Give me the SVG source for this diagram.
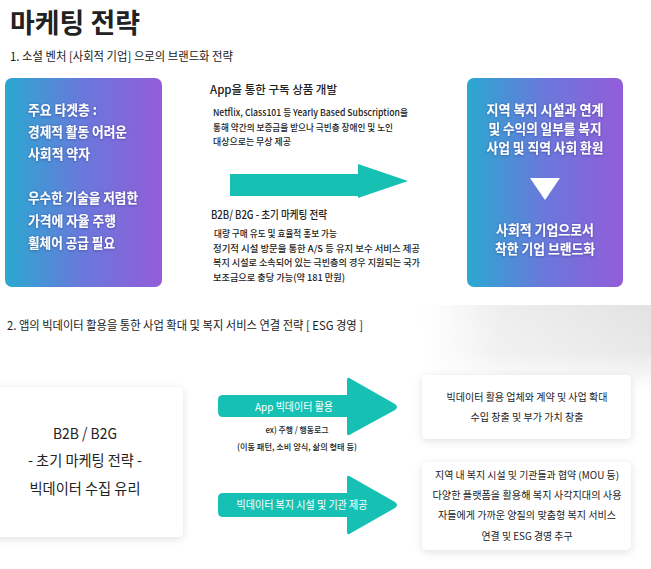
<svg xmlns="http://www.w3.org/2000/svg" width="651" height="569" viewBox="0 0 651 569">
<defs>
<linearGradient id="grad" x1="0" y1="0" x2="1" y2="0">
<stop offset="0" stop-color="#2aa9d0"/>
<stop offset="0.5" stop-color="#6a78db"/>
<stop offset="1" stop-color="#935cd8"/>
</linearGradient>
<linearGradient id="photoH" x1="0" y1="0" x2="1" y2="0">
<stop offset="0" stop-color="#ececec" stop-opacity="0"/>
<stop offset="0.35" stop-color="#e9e9e9" stop-opacity="0.8"/>
<stop offset="1" stop-color="#e2e2e2" stop-opacity="1"/>
</linearGradient>
<linearGradient id="fadeV" x1="0" y1="0" x2="0" y2="1">
<stop offset="0" stop-color="#fff" stop-opacity="1"/>
<stop offset="0.55" stop-color="#fff" stop-opacity="0.8"/>
<stop offset="1" stop-color="#fff" stop-opacity="0"/>
</linearGradient>
<mask id="photoMask"><rect x="420" y="305" width="231" height="85" fill="url(#fadeV)"/></mask>
<filter id="shadow" x="-20%" y="-20%" width="140%" height="150%">
<feDropShadow dx="0" dy="2" stdDeviation="4" flood-color="#000" flood-opacity="0.12"/>
</filter>
<filter id="tshadow" x="-10%" y="-30%" width="120%" height="160%">
<feDropShadow dx="0" dy="0.5" stdDeviation="0.8" flood-color="#1a2a6a" flood-opacity="0.55"/>
</filter>
</defs>
<style>
text{font-family:"Noto Sans CJK KR","Noto Sans",sans-serif;fill:#222;}
.title{font-size:27px;font-weight:700;}
.sub{font-size:12px;}
.wb{font-size:14px;font-weight:700;fill:#fff;}
.head{font-size:11.5px;font-weight:500;}
.small{font-size:9.5px;font-weight:500;}
.big{font-size:15px;text-anchor:middle;}
.al{font-size:11px;fill:#fff;text-anchor:middle;}
.tiny{font-size:8.5px;text-anchor:middle;font-weight:500;}
.bx{font-size:10px;text-anchor:middle;}
.arrow{fill:#16c1b4;}
.card{fill:#fff;filter:url(#shadow);}
</style>
<rect width="651" height="569" fill="#fff"/>
<rect x="420" y="305" width="231" height="85" fill="url(#photoH)" mask="url(#photoMask)"/>

<text class="title" x="10" y="33" textLength="130" lengthAdjust="spacingAndGlyphs">마케팅 전략</text>
<text class="sub" x="10" y="61" textLength="223" lengthAdjust="spacingAndGlyphs">1. 소셜 벤처 [사회적 기업] 으로의 브랜드화 전략</text>

<g id="target-box">
<rect x="5" y="78" width="157" height="209" rx="7" fill="url(#grad)"/>
<g filter="url(#tshadow)">
<text class="wb" x="28" y="115" textLength="69" lengthAdjust="spacingAndGlyphs">주요 타겟층 :</text>
<text class="wb" x="28" y="137" textLength="99" lengthAdjust="spacingAndGlyphs">경제적 활동 어려운</text>
<text class="wb" x="28" y="159" textLength="62" lengthAdjust="spacingAndGlyphs">사회적 약자</text>
<text class="wb" x="28" y="203" textLength="110" lengthAdjust="spacingAndGlyphs">우수한 기술을 저렴한</text>
<text class="wb" x="28" y="226" textLength="88" lengthAdjust="spacingAndGlyphs">가격에 자율 주행</text>
<text class="wb" x="28" y="248" textLength="87" lengthAdjust="spacingAndGlyphs">휠체어 공급 필요</text>
</g>
</g>

<g id="brand-box">
<rect x="467" y="78" width="156" height="209" rx="7" fill="url(#grad)"/>
<g filter="url(#tshadow)" text-anchor="middle">
<text class="wb" x="545" y="115" textLength="117" lengthAdjust="spacingAndGlyphs">지역 복지 시설과 연계</text>
<text class="wb" x="545" y="134" textLength="113" lengthAdjust="spacingAndGlyphs">및 수익의 일부를 복지</text>
<text class="wb" x="545" y="153" textLength="117" lengthAdjust="spacingAndGlyphs">사업 및 직역 사회 환원</text>
<text class="wb" x="545" y="235" textLength="98" lengthAdjust="spacingAndGlyphs">사회적 기업으로서</text>
<text class="wb" x="545" y="254" textLength="100" lengthAdjust="spacingAndGlyphs">착한 기업 브랜드화</text>
</g>
<polygon points="530,178 560,178 545,200" fill="#fff"/>
</g>

<g id="strategy-text">
<text class="head" x="210" y="94" textLength="127" lengthAdjust="spacingAndGlyphs">App을 통한 구독 상품 개발</text>
<text class="small" x="213" y="115.5" textLength="195" lengthAdjust="spacingAndGlyphs">Netflix, Class101 등 Yearly Based Subscription을</text>
<text class="small" x="213" y="130.5" textLength="180" lengthAdjust="spacingAndGlyphs">통해 약간의 보증금을 받으나 극빈층 장애인 및 노인</text>
<text class="small" x="213" y="144.5" textLength="78" lengthAdjust="spacingAndGlyphs">대상으로는 무상 제공</text>
<text class="head" x="211" y="219" textLength="116" lengthAdjust="spacingAndGlyphs">B2B/ B2G - 초기 마케팅 전략</text>
<text class="small" x="214" y="236.5" textLength="123" lengthAdjust="spacingAndGlyphs">대량 구매 유도 및 효율적 홍보 가능</text>
<text class="small" x="213" y="251.5" textLength="207" lengthAdjust="spacingAndGlyphs">정기적 시설 방문을 통한 A/S 등 유지 보수 서비스 제공</text>
<text class="small" x="213" y="266" textLength="207" lengthAdjust="spacingAndGlyphs">복지 시설로 소속되어 있는 극빈층의 경우 지원되는 국가</text>
<text class="small" x="213" y="280.5" textLength="132" lengthAdjust="spacingAndGlyphs">보조금으로 충당 가능(약 181 만원)</text>
</g>

<text class="sub" x="7" y="329.5" textLength="356" lengthAdjust="spacingAndGlyphs">2. 앱의 빅데이터 활용을 통한 사업 확대 및 복지 서비스 연결 전략 [ ESG 경영 ]</text>

<g id="b2b-box">
<rect class="card" x="-10" y="387" width="193" height="150" rx="5"/>
<text class="big" x="85" y="438.5" textLength="64" lengthAdjust="spacingAndGlyphs">B2B / B2G</text>
<text class="big" x="85" y="466" textLength="114" lengthAdjust="spacingAndGlyphs">- 초기 마케팅 전략 -</text>
<text class="big" x="85" y="494" textLength="111" lengthAdjust="spacingAndGlyphs">빅데이터 수집 유리</text>
</g>

<g id="result-box-1">
<rect class="card" x="422" y="375" width="209" height="64" rx="5"/>
<text class="bx" x="527" y="400.5" textLength="161" lengthAdjust="spacingAndGlyphs">빅데이터 활용 업체와 계약 및 사업 확대</text>
<text class="bx" x="527" y="420.5" textLength="113" lengthAdjust="spacingAndGlyphs">수입 창출 및 부가 가치 창출</text>
</g>

<g id="result-box-2">
<rect class="card" x="422" y="462" width="209" height="88" rx="5"/>
<text class="bx" x="527" y="478.5" textLength="184" lengthAdjust="spacingAndGlyphs">지역 내 복지 시설 및 기관들과 협약 (MOU 등)</text>
<text class="bx" x="527" y="498.5" textLength="189" lengthAdjust="spacingAndGlyphs">다양한 플랫폼을 활용해 복지 사각지대의 사용</text>
<text class="bx" x="527" y="518.5" textLength="178" lengthAdjust="spacingAndGlyphs">자들에게 가까운 양질의 맞춤형 복지 서비스</text>
<text class="bx" x="527" y="539.5" textLength="91" lengthAdjust="spacingAndGlyphs">연결 및 ESG 경영 추구</text>
</g>

<g id="connectors">
<path class="arrow" d="M230,174 H358 V164 L408,181 L358,198 V196 H230 Z"/>
<path class="arrow" d="M223,395 H347 V380 Q347,376 351,379 L395,404 Q399,407 395,410 L351,434 Q347,437 347,433 V417 H223 Q218,417 218,412 V400 Q218,395 223,395 Z"/>
<path class="arrow" d="M223,493 H347 V478 Q347,474 351,477 L395,502 Q399,505 395,508 L351,533 Q347,536 347,532 V517 H223 Q218,517 218,512 V498 Q218,493 223,493 Z"/>
<text class="al" x="294" y="411" textLength="78" lengthAdjust="spacingAndGlyphs">App 빅데이터 활용</text>
<text class="tiny" x="297" y="433" textLength="63" lengthAdjust="spacingAndGlyphs">ex) 주행 / 행동로그</text>
<text class="tiny" x="297" y="450" textLength="120" lengthAdjust="spacingAndGlyphs">(이동 패턴, 소비 양식, 삶의 형태 등)</text>
<text class="al" x="302" y="509" textLength="131" lengthAdjust="spacingAndGlyphs">빅데이터 복지 시설 및 기관 제공</text>
</g>
</svg>
